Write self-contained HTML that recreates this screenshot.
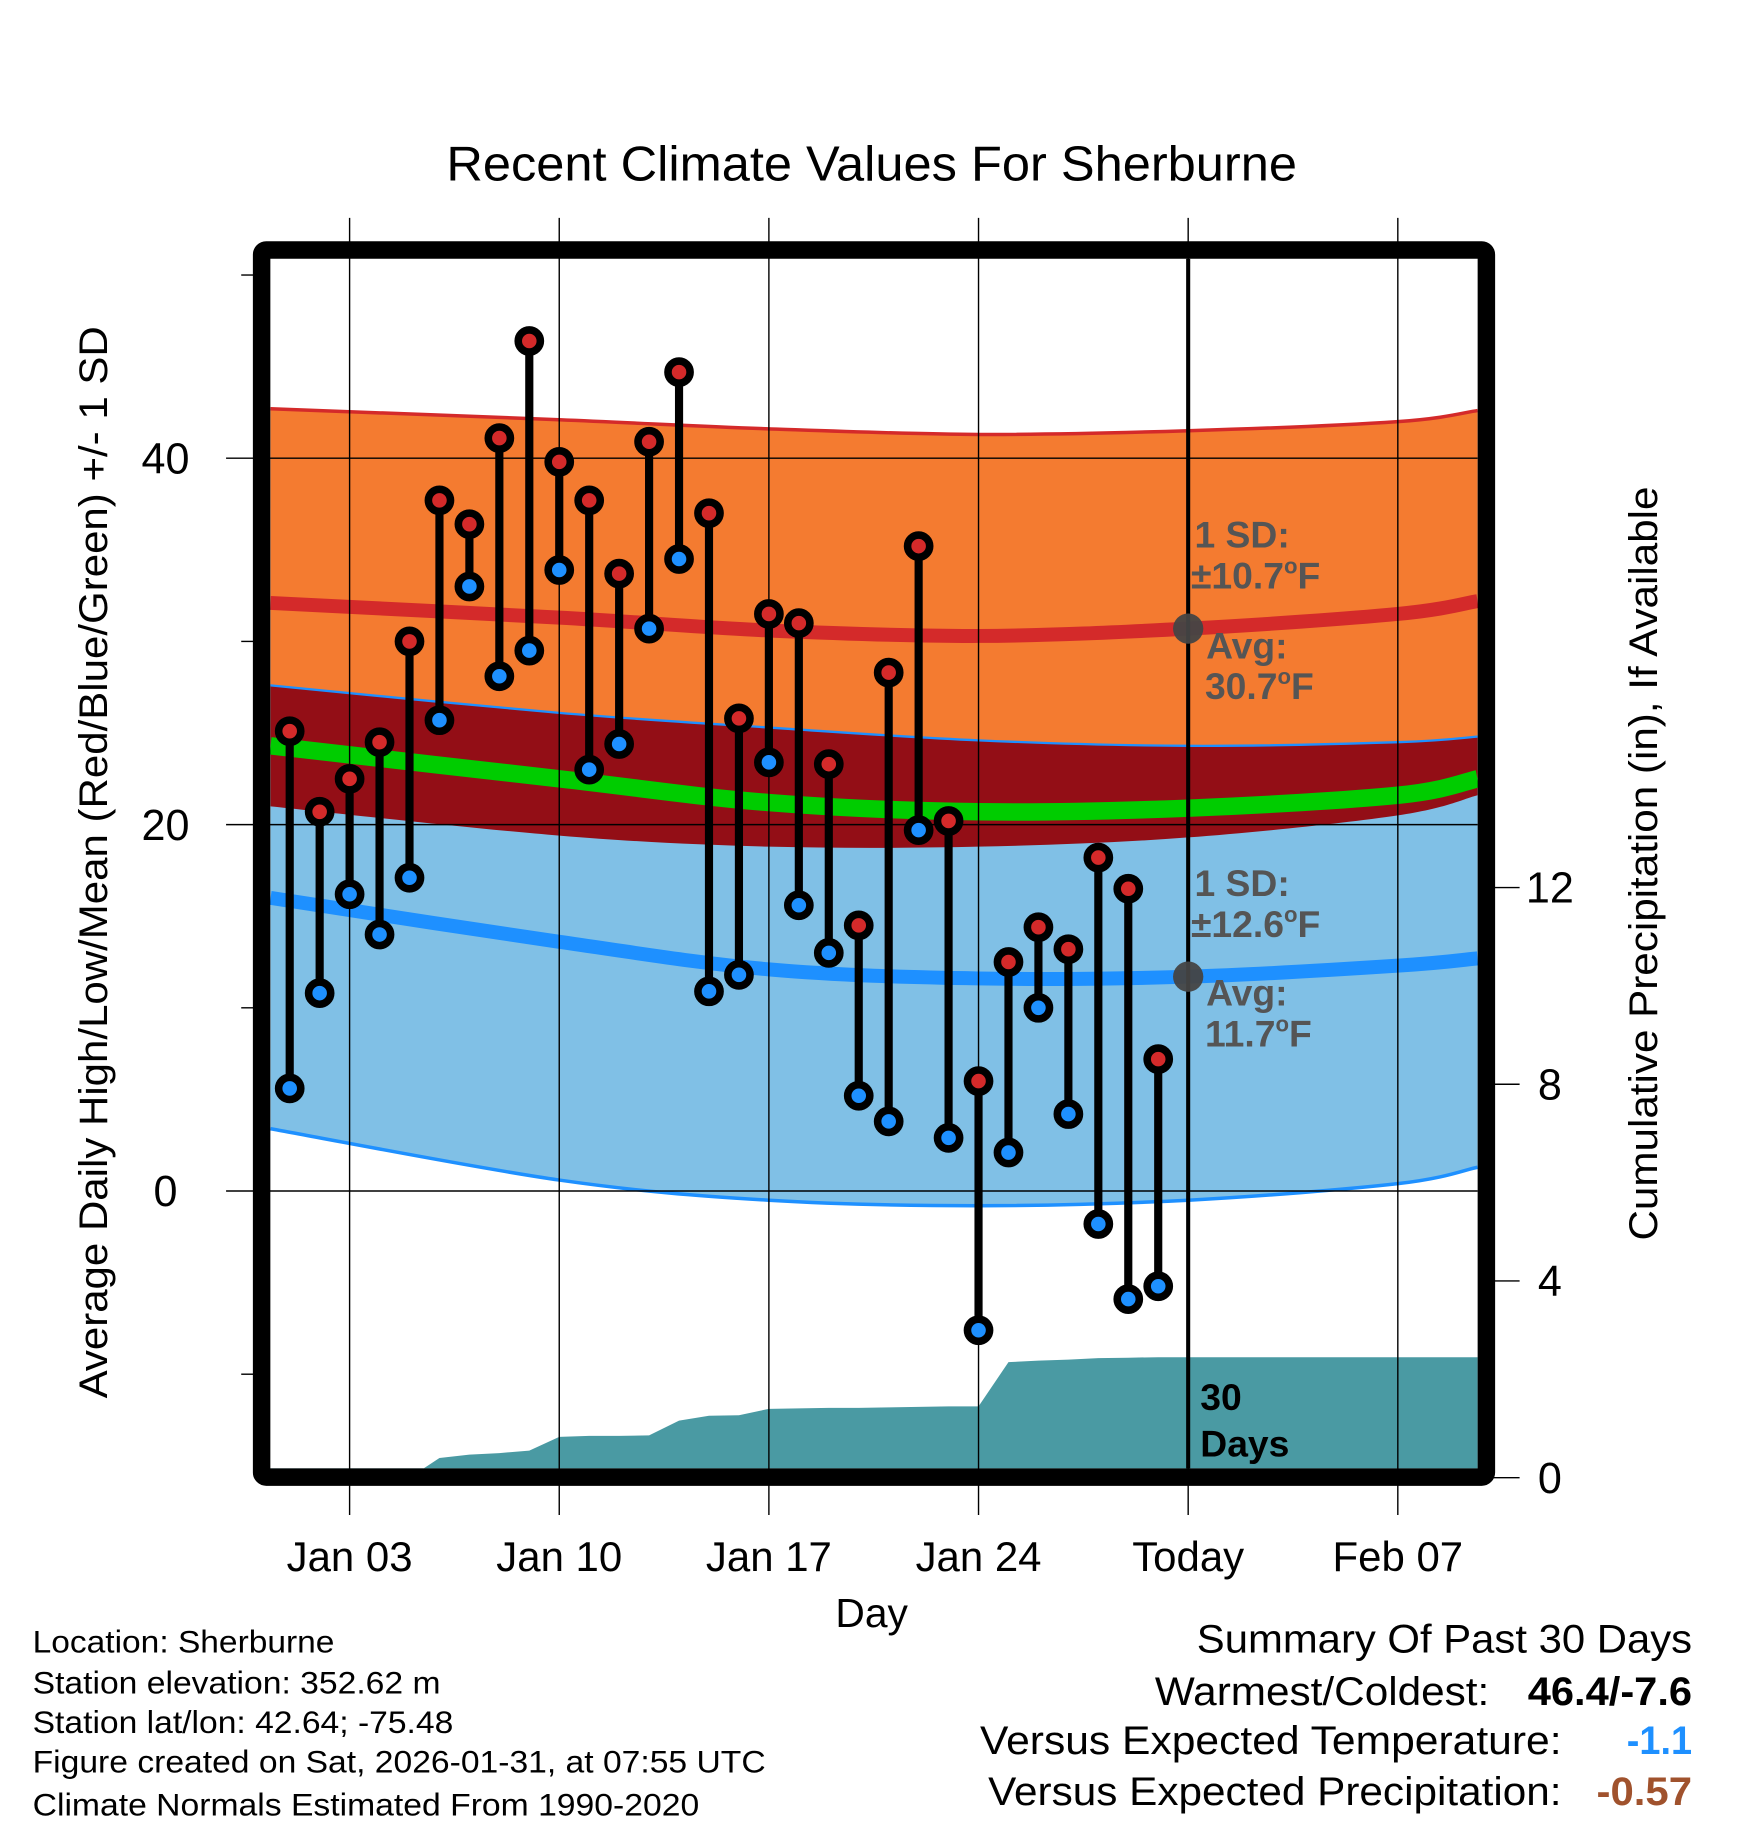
<!DOCTYPE html>
<html><head><meta charset="utf-8"><style>
html,body{margin:0;padding:0;background:#fff;}
svg{display:block;font-family:"Liberation Sans",sans-serif;}
</style></head><body>
<svg id="chart" width="1748" height="1828" viewBox="0 0 1500 1568.6" preserveAspectRatio="none" xmlns="http://www.w3.org/2000/svg">
<g id="bands"></g><g id="grid"></g><g id="marks"></g><g id="frame"></g><g id="labels"></g>
</svg>
<script>
// ---- data ----
const obsDays = [0,1,2,3,4,5,6,7,8,9,10,11,12,13,14,15,16,17,18,19,20,21,22,23,24,25,26,27,28,29];
const highs = [25.1,20.7,22.5,24.5,30.0,37.7,36.4,41.1,46.4,39.8,37.7,33.7,40.9,44.7,37.0,25.8,31.5,31.0,23.3,14.5,28.3,35.2,20.2,6.0,12.5,14.4,13.2,18.2,16.5,7.2];
const lows = [5.6,10.8,16.2,14.0,17.1,25.7,33.0,28.1,29.5,33.9,23.0,24.4,30.7,34.5,10.9,11.8,23.4,15.6,13.0,5.2,3.8,19.7,2.9,-7.6,2.1,10.0,4.2,-1.8,-5.9,-5.2];
const precipCum = [0,0,0,0,0,0.4,0.47,0.5,0.55,0.83,0.85,0.85,0.86,1.16,1.26,1.27,1.4,1.41,1.42,1.42,1.43,1.44,1.45,1.45,2.35,2.38,2.4,2.43,2.44,2.45];
const normDays = [-0.64,9,16,23,30,37,39.66];
const highUpper = [42.7,42.1,41.6,41.3,41.5,42.0,42.6];
const highAvg = [32.1,31.3,30.6,30.3,30.7,31.5,32.2];
const highLower = [21.0,19.4,18.8,18.8,19.3,20.5,21.6];
const meanAvg = [24.3,22.5,21.2,20.7,20.9,21.6,22.5];
const lowUpper = [27.6,26.1,25.3,24.6,24.3,24.5,24.8];
const lowAvg = [16.0,13.6,12.1,11.6,11.7,12.3,12.7];
const lowLower = [3.4,0.6,-0.5,-0.8,-0.5,0.4,1.3];
const tempTicks = [40,20,0];
const tempMinor = [50,30,10,-10];
const precipTicks = [0,4,8,12];
const xTickDays = [2,9,16,23,30,37];
const xTickLabels = ["Jan 03","Jan 10","Jan 17","Jan 24","Today","Feb 07"];
const todayDay = 30;

// ---- axes ----
const L=232,R=1268,T=222,B=1260;
const X=d=>248.6+d*25.7;
const Y=t=>1022-t*15.72;
const P=p=>1268-p*42.2;
const NS="http://www.w3.org/2000/svg";
function el(tag,attrs,parent,text){const e=document.createElementNS(NS,tag);for(const k in attrs)e.setAttribute(k,attrs[k]);if(text!==undefined)e.textContent=text;parent.appendChild(e);return e;}
const bands=document.getElementById('bands'),grid=document.getElementById('grid'),marks=document.getElementById('marks'),frame=document.getElementById('frame'),labels=document.getElementById('labels');

function pts(arr){return normDays.map((d,i)=>[X(d),Y(arr[i])]);}
function curve(p){let s='';for(let i=0;i<p.length-1;i++){const p0=p[Math.max(i-1,0)],p1=p[i],p2=p[i+1],p3=p[Math.min(i+2,p.length-1)];
 const c1=[p1[0]+(p2[0]-p0[0])/6,p1[1]+(p2[1]-p0[1])/6],c2=[p2[0]-(p3[0]-p1[0])/6,p2[1]-(p3[1]-p1[1])/6];
 s+=`C${c1[0].toFixed(1)},${c1[1].toFixed(1)} ${c2[0].toFixed(1)},${c2[1].toFixed(1)} ${p2[0].toFixed(1)},${p2[1].toFixed(1)} `;}return s;}
function line(arr){const p=pts(arr);return `M${p[0][0]},${p[0][1]} `+curve(p);}
function band(up,lo){const a=pts(up),b=pts(lo).reverse();return `M${a[0][0]},${a[0][1]} `+curve(a)+`L${b[0][0]},${b[0][1]} `+curve(b)+'Z';}

let e;
e=el('path',{d:band(highUpper,highLower),fill:'#f47b30'},bands);

e=el('path',{d:band(lowUpper,lowLower),fill:'#80c0e6'},bands);

e=el('path',{d:band(lowUpper,highLower),fill:'#930e16'},bands);

e=el('path',{d:line(lowUpper),fill:'none',stroke:'#1e90ff','stroke-width':2},bands);

e=el('path',{d:line(lowLower),fill:'none',stroke:'#1e90ff','stroke-width':3},bands);

e=el('path',{d:line(highUpper),fill:'none',stroke:'#d42a2a','stroke-width':3},bands);

e=el('path',{d:line(meanAvg),fill:'none',stroke:'#00cc00','stroke-width':15},bands);

e=el('path',{d:line(highAvg),fill:'none',stroke:'#d42a2a','stroke-width':12},bands);

e=el('path',{d:line(lowAvg),fill:'none',stroke:'#1e90ff','stroke-width':12},bands);


// precip area
let pd=`M${X(obsDays[0])},${P(0)} `;
obsDays.forEach((d,i)=>{pd+=`L${X(d)},${P(precipCum[i])} `;});
pd+=`L${R},${P(precipCum[precipCum.length-1])} L${R},${B} L${L},${B} L${L},${P(0)} Z`;
e=el('path',{d:pd,fill:'#4a9aa3'},bands);


// grid
xTickDays.forEach((d,i)=>{
 e=el('line',{x1:X(d),x2:X(d),y1:187,y2:1300,stroke:'#000','stroke-width':1.2},grid);
 
 e=el('text',{x:X(d),y:1348,'font-size':36,'text-anchor':'middle'},labels,xTickLabels[i]);
 
});
tempTicks.forEach(t=>{
 e=el('line',{x1:194,x2:R,y1:Y(t),y2:Y(t),stroke:'#000','stroke-width':1.2},grid);
 
 e=el('text',{x:142,y:Y(t)+13,'font-size':37,'text-anchor':'middle'},labels,String(t));
 
});
tempMinor.forEach(t=>{
 e=el('line',{x1:207,x2:220,y1:Y(t),y2:Y(t),stroke:'#000','stroke-width':1.2},grid);
 
});
precipTicks.forEach(p=>{
 e=el('line',{x1:1280,x2:1304,y1:P(p),y2:P(p),stroke:'#000','stroke-width':1.2},grid);
 
 e=el('text',{x:1330,y:P(p)+13,'font-size':37,'text-anchor':'middle'},labels,String(p));
 
});

// observations
obsDays.forEach((d,i)=>{
 const x=X(d);
 e=el('line',{x1:x,x2:x,y1:Y(highs[i]),y2:Y(lows[i]),stroke:'#000','stroke-width':7},marks);
 
 e=el('circle',{cx:x,cy:Y(highs[i]),r:9.5,fill:'#d42a2a',stroke:'#000','stroke-width':6.5},marks);
 
 e=el('circle',{cx:x,cy:Y(lows[i]),r:9.5,fill:'#1e90ff',stroke:'#000','stroke-width':6.5},marks);
 
});

// today line + avg dots
e=el('line',{x1:X(todayDay),x2:X(todayDay),y1:T,y2:B,stroke:'#000','stroke-width':3.5},marks);

const hi=highAvg[4],lo=lowAvg[4];
e=el('circle',{cx:X(todayDay),cy:Y(hi),r:13,fill:'#444','fill-opacity':0.95},marks);

e=el('circle',{cx:X(todayDay),cy:Y(lo),r:13,fill:'#444','fill-opacity':0.95},marks);


// frame
e=el('rect',{x:L-7.5,y:T-7.5,width:R-L+15,height:B-T+15,fill:'none',stroke:'#000','stroke-width':15,rx:4},frame);

</script>
<svg style="position:absolute;left:0;top:0" width="1748" height="1828" viewBox="0 0 1500 1568.6" preserveAspectRatio="none" xmlns="http://www.w3.org/2000/svg" font-family="Liberation Sans, sans-serif">
<text x="748" y="155" font-size="42" text-anchor="middle" textLength="730" lengthAdjust="spacingAndGlyphs">Recent Climate Values For Sherburne</text>
<text transform="translate(92,740) rotate(-90)" font-size="34" text-anchor="middle" textLength="920" lengthAdjust="spacingAndGlyphs">Average Daily High/Low/Mean (Red/Blue/Green) +/- 1 SD</text>
<text transform="translate(1422,741) rotate(-90)" font-size="34" text-anchor="middle" textLength="647" lengthAdjust="spacingAndGlyphs">Cumulative Precipitation (in), If Available</text>
<text x="748" y="1396" font-size="35" text-anchor="middle">Day</text>
<g font-size="32" font-weight="bold" fill="#555">
<text x="1025" y="470">1 SD:</text>
<text x="1022" y="505">±10.7<tspan font-size="19" dy="-13">o</tspan><tspan dy="13">F</tspan></text>
<text x="1035" y="565">Avg:</text>
<text x="1034" y="600">30.7<tspan font-size="19" dy="-13">o</tspan><tspan dy="13">F</tspan></text>
</g>
<g font-size="32" font-weight="bold" fill="#555">
<text x="1025" y="769">1 SD:</text>
<text x="1022" y="804">±12.6<tspan font-size="19" dy="-13">o</tspan><tspan dy="13">F</tspan></text>
<text x="1035" y="863">Avg:</text>
<text x="1034" y="898">11.7<tspan font-size="19" dy="-13">o</tspan><tspan dy="13">F</tspan></text>
</g>
<text x="1030" y="1210" font-size="32" font-weight="bold">30</text>
<text x="1030" y="1250" font-size="32" font-weight="bold">Days</text>
<g font-size="27" lengthAdjust="spacingAndGlyphs">
<text x="28" y="1418" textLength="259" lengthAdjust="spacingAndGlyphs">Location: Sherburne</text>
<text x="28" y="1453" textLength="350" lengthAdjust="spacingAndGlyphs">Station elevation: 352.62 m</text>
<text x="28" y="1487" textLength="361" lengthAdjust="spacingAndGlyphs">Station lat/lon: 42.64; -75.48</text>
<text x="28" y="1521" textLength="629" lengthAdjust="spacingAndGlyphs">Figure created on Sat, 2026-01-31, at 07:55 UTC</text>
<text x="28" y="1558" textLength="572" lengthAdjust="spacingAndGlyphs">Climate Normals Estimated From 1990-2020</text>
</g>
<g font-size="34">
<text x="1027" y="1418" textLength="425" lengthAdjust="spacingAndGlyphs">Summary Of Past 30 Days</text>
<text x="991" y="1463" textLength="287" lengthAdjust="spacingAndGlyphs">Warmest/Coldest:</text>
<text x="1311" y="1463" font-weight="bold" textLength="141" lengthAdjust="spacingAndGlyphs">46.4/-7.6</text>
<text x="841" y="1505" textLength="499" lengthAdjust="spacingAndGlyphs">Versus Expected Temperature:</text>
<text x="1396" y="1505" font-weight="bold" fill="#1e90ff" textLength="56" lengthAdjust="spacingAndGlyphs">-1.1</text>
<text x="848" y="1549" textLength="492" lengthAdjust="spacingAndGlyphs">Versus Expected Precipitation:</text>
<text x="1370" y="1549" font-weight="bold" fill="#a0522d" textLength="82" lengthAdjust="spacingAndGlyphs">-0.57</text>
</g>
</svg>
</body></html>
